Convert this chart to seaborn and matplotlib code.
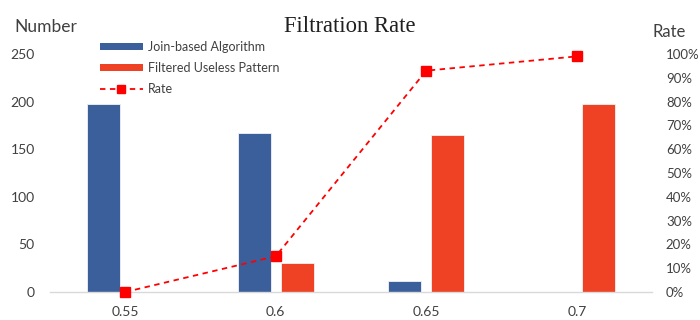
import numpy as np
import pandas as pd
import matplotlib
matplotlib.use("Agg")
import matplotlib.pyplot as plt
import seaborn as sns
from matplotlib.lines import Line2D
from matplotlib.patches import Patch

thresholds = ["0.55", "0.6", "0.65", "0.7"]
join_based = [197, 167, 12, 0]
filtered_useless = [0, 30, 165, 197]
rate = [0.0, 0.15, 0.93, 0.99]
left_ticks = [0, 50, 100, 150, 200, 250]
right_ticks = [0.0, 0.1, 0.2, 0.3, 0.4, 0.5, 0.6, 0.7, 0.8, 0.9, 1.0]

series_names = ["Join-based Algorithm", "Filtered Useless Pattern"]
series_colors = ["#3A5F9B", "#EF4123"]
rate_color = "#FF0000"
text_color = "#404040"

df = pd.DataFrame({
    "threshold": thresholds * 2,
    "count": join_based + filtered_useless,
    "series": [series_names[0]] * 4 + [series_names[1]] * 4,
})

sns.set_style("white")
plt.rcParams["font.family"] = ["Lato", "DejaVu Sans"]

fig = plt.figure(figsize=(7, 3.2), dpi=100)
ax = fig.add_axes([50 / 700, 1 - 292 / 320, 602 / 700, 238 / 320])

sns.barplot(data=df, x="threshold", y="count", hue="series", order=thresholds,
            hue_order=series_names, palette=series_colors, width=0.572, gap=0.23,
            edgecolor="#F2F2F2", linewidth=0.6, saturation=1, legend=False, ax=ax)

ax.set_xlim(-0.5, 3.5)
ax.set_ylim(0, 250)
ax.set_yticks(left_ticks)
ax.set_xlabel("")
ax.set_ylabel("")
for side in ["top", "right", "left"]:
    ax.spines[side].set_visible(False)
ax.spines["bottom"].set_color("#D9D9D9")
ax.spines["bottom"].set_linewidth(1.0)
ax.tick_params(axis="both", length=0, labelsize=10, colors=text_color)
ax.tick_params(axis="y", pad=11)
ax.tick_params(axis="x", pad=10)

ax2 = ax.twinx()
ax2.plot(np.arange(len(thresholds)), rate, color=rate_color, linestyle=(0, (3, 2.5)),
         linewidth=1.3, marker="s", markersize=7, clip_on=False, zorder=5)
ax2.set_ylim(0, 1)
ax2.set_yticks(right_ticks)
ax2.set_yticklabels([f"{int(round(t * 100))}%" for t in right_ticks])
for side in ["top", "right", "left", "bottom"]:
    ax2.spines[side].set_visible(False)
ax2.tick_params(axis="y", length=0, labelsize=9.5, colors=text_color, pad=10)

fig.text(14 / 700, 1 - 27 / 320, "Number", fontsize=12.5, color=text_color,
         ha="left", va="center")
fig.text(653 / 700, 1 - 32 / 320, "Rate", fontsize=12, color=text_color,
         ha="left", va="center")
fig.text(0.5, 1 - 27 / 320, "Filtration Rate", fontsize=16.3,
         family=["Liberation Serif", "DejaVu Serif"], color="#202020",
         ha="center", va="center")

handles = [
    Patch(facecolor=series_colors[0], edgecolor="none"),
    Patch(facecolor=series_colors[1], edgecolor="none"),
    Line2D([0], [0], color=rate_color, linestyle=(0, (3, 2.5)), linewidth=1.3,
           marker="s", markersize=6),
]
fig.legend(handles, series_names + ["Rate"], loc="upper left",
           bbox_to_anchor=(100 / 700, 1 - 41 / 320), frameon=False,
           fontsize=9, labelcolor=text_color, handlelength=3.4, handleheight=0.5,
           handletextpad=0.4, labelspacing=0.72, borderpad=0, borderaxespad=0)

fig.savefig("out.png", dpi=100)
